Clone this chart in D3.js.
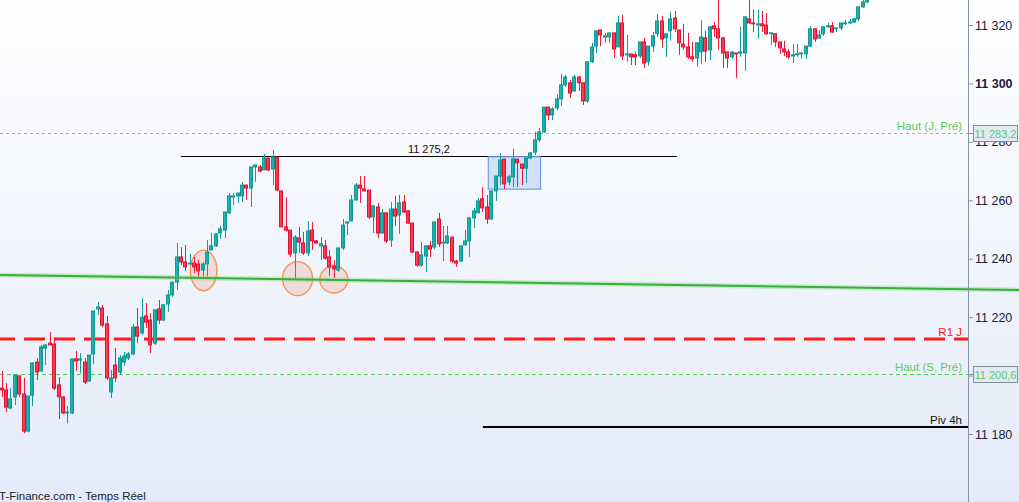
<!DOCTYPE html>
<html><head><meta charset="utf-8">
<script src="https://cdn.jsdelivr.net/npm/d3@7"></script>
<style>html,body{margin:0;padding:0;overflow:hidden;background:#fff}svg{display:block}</style>
</head><body><svg id="c" width="1019" height="502"></svg>
<script>
// ---------- DATA ----------
const opens=[11195.7,11195.1,11188.9,11192.7,11199.9,11193.7,11181.0,11193.3,11204.6,11201.6,11209.4,11211.1,11210.8,11196.8,11192.7,11187.2,11187.2,11205.7,11205.3,11204.6,11198.1,11207.4,11222.8,11223.1,11217.7,11194.4,11203.6,11201.2,11204.6,11206.0,11207.4,11216.6,11214.6,11220.4,11219.0,11211.1,11222.8,11219.0,11224.5,11227.6,11232.0,11240.6,11238.9,11238.2,11238.5,11238.2,11236.1,11238.2,11243.0,11244.4,11248.8,11249.8,11255.7,11261.1,11261.5,11261.5,11265.2,11264.2,11271.4,11271.4,11270.4,11274.5,11270.7,11274.8,11263.2,11250.9,11249.8,11242.0,11247.1,11245.4,11242.0,11249.8,11246.1,11244.4,11244.4,11240.6,11237.5,11236.1,11243.7,11252.2,11252.9,11260.1,11265.2,11263.9,11263.5,11254.3,11257.7,11248.8,11255.7,11246.4,11257.0,11255.0,11259.4,11256.4,11252.2,11242.3,11237.8,11240.9,11244.4,11244.0,11253.6,11245.4,11245.4,11247.4,11239.2,11239.2,11244.7,11246.1,11254.0,11255.7,11260.5,11257.7,11253.6,11263.2,11268.3,11274.1,11266.3,11268.0,11274.1,11272.4,11271.0,11274.5,11276.5,11280.7,11283.4,11291.9,11289.2,11291.6,11294.7,11299.5,11300.2,11297.4,11302.2,11300.2,11294.0,11307.4,11312.8,11318.3,11315.9,11315.9,11317.3,11312.5,11320.7,11309.8,11310.1,11309.8,11309.4,11314.2,11307.4,11312.8,11317.0,11321.4,11315.6,11318.0,11322.4,11318.3,11313.5,11312.5,11309.1,11308.7,11310.8,11315.6,11311.5,11319.7,11318.7,11315.6,11310.8,11309.1,11310.4,11310.4,11310.4,11322.1,11320.7,11320.0,11320.4,11320.0,11317.0,11317.0,11314.2,11311.8,11310.8,11309.4,11309.8,11310.1,11310.1,11312.8,11318.7,11315.6,11317.0,11319.4,11319.7,11318.7,11319.0,11320.4,11320.7,11321.0,11322.1,11326.2,11327.9];
const highs=[11201.6,11197.4,11195.7,11200.2,11199.9,11199.2,11193.0,11204.6,11206.0,11210.5,11210.5,11214.9,11213.2,11199.5,11192.7,11189.6,11205.7,11208.4,11207.7,11206.0,11207.0,11222.1,11225.2,11224.2,11220.4,11201.9,11209.4,11207.0,11208.1,11208.1,11217.7,11223.1,11226.6,11224.8,11221.4,11222.5,11225.9,11224.5,11229.3,11232.0,11245.4,11244.0,11244.7,11241.6,11240.6,11239.6,11238.9,11246.4,11248.8,11248.8,11251.2,11256.0,11262.5,11262.5,11262.5,11266.3,11265.2,11271.4,11272.1,11272.1,11275.9,11274.5,11277.2,11274.8,11263.2,11261.1,11249.8,11248.1,11250.9,11249.2,11252.9,11252.6,11246.4,11247.4,11246.4,11243.0,11239.6,11243.7,11253.6,11252.6,11261.8,11265.9,11268.3,11268.3,11263.5,11258.1,11259.1,11257.0,11255.7,11259.4,11261.5,11261.8,11261.8,11256.4,11252.2,11242.3,11245.7,11244.4,11246.1,11252.6,11255.7,11251.2,11251.2,11247.4,11239.6,11244.4,11249.8,11254.0,11257.4,11260.8,11264.5,11261.8,11263.2,11268.3,11276.2,11274.1,11268.7,11277.6,11274.1,11272.4,11274.5,11276.5,11283.4,11284.8,11291.9,11291.9,11291.9,11296.4,11303.3,11302.9,11301.2,11302.9,11302.6,11300.2,11307.4,11313.9,11318.0,11318.3,11317.3,11317.3,11317.3,11323.1,11323.5,11316.6,11310.1,11310.8,11314.2,11315.6,11312.8,11317.6,11323.8,11323.1,11317.0,11324.5,11324.8,11318.3,11320.4,11317.3,11314.2,11313.9,11321.7,11318.0,11319.4,11321.0,11328.6,11315.6,11310.8,11310.8,11310.4,11319.4,11322.8,11328.6,11325.2,11325.2,11324.8,11324.1,11317.6,11317.0,11314.2,11314.6,11311.8,11313.5,11313.5,11310.8,11312.8,11319.7,11318.7,11318.3,11319.7,11320.7,11321.0,11319.0,11320.7,11321.7,11322.1,11322.4,11326.2,11328.6,11330.3];
const lows=[11192.7,11187.5,11188.5,11189.9,11192.7,11180.3,11180.6,11189.6,11198.5,11201.2,11203.6,11210.5,11195.1,11185.1,11186.8,11183.7,11186.8,11201.6,11200.9,11197.1,11198.1,11204.0,11220.7,11216.6,11198.5,11192.3,11197.8,11200.2,11203.3,11205.3,11207.0,11211.1,11213.9,11216.3,11207.7,11210.5,11217.7,11218.7,11221.8,11226.9,11229.3,11237.8,11235.8,11237.8,11235.1,11233.8,11233.8,11233.8,11243.0,11244.0,11246.8,11247.1,11255.3,11258.4,11259.1,11259.4,11260.1,11257.7,11266.3,11269.7,11270.4,11270.0,11265.2,11263.2,11250.9,11249.2,11240.6,11233.1,11242.0,11241.3,11240.9,11243.0,11245.1,11239.6,11239.6,11234.1,11233.4,11235.5,11243.0,11248.1,11252.9,11259.8,11259.1,11263.2,11253.6,11248.8,11247.1,11248.5,11245.4,11244.0,11251.2,11248.5,11255.7,11251.9,11242.0,11237.2,11237.2,11235.5,11240.6,11243.3,11244.0,11239.2,11245.1,11238.5,11237.2,11238.9,11244.7,11240.6,11250.5,11255.7,11256.0,11251.9,11253.3,11259.8,11265.2,11263.9,11265.2,11264.5,11264.5,11265.2,11265.9,11274.1,11275.5,11280.0,11283.1,11287.5,11287.5,11290.9,11292.3,11298.8,11295.0,11297.1,11297.4,11292.6,11293.3,11307.0,11310.4,11312.8,11313.9,11313.9,11308.7,11312.5,11308.0,11307.4,11306.3,11306.3,11308.7,11305.3,11306.0,11310.8,11315.9,11312.2,11309.1,11314.6,11317.6,11309.8,11311.5,11308.4,11307.4,11305.7,11306.7,11307.4,11308.0,11315.9,11311.5,11305.3,11305.3,11308.4,11301.9,11309.1,11304.3,11320.4,11317.6,11315.2,11317.6,11316.6,11313.2,11312.5,11310.1,11309.4,11308.4,11307.0,11309.1,11308.4,11308.4,11312.5,11314.2,11315.2,11316.3,11319.0,11317.3,11317.6,11318.3,11320.0,11320.4,11320.7,11321.4,11325.9,11327.5];
const closes=[11195.1,11189.2,11192.0,11200.2,11193.7,11181.0,11193.0,11204.3,11201.2,11209.8,11210.5,11210.5,11195.7,11192.7,11187.2,11187.5,11205.7,11205.0,11205.7,11197.8,11207.0,11222.1,11223.5,11217.3,11199.2,11199.2,11199.2,11206.0,11206.7,11207.4,11216.6,11213.5,11220.0,11218.3,11210.5,11222.5,11219.0,11224.2,11227.6,11232.0,11240.6,11238.9,11237.2,11238.5,11237.2,11235.8,11238.2,11242.3,11244.4,11248.5,11250.2,11256.0,11261.5,11261.5,11262.5,11265.2,11264.2,11271.4,11272.1,11270.0,11274.5,11270.4,11274.8,11263.5,11250.9,11249.8,11241.6,11247.4,11245.7,11242.0,11249.5,11246.1,11245.4,11245.1,11240.2,11237.2,11236.5,11243.7,11251.5,11252.6,11260.1,11265.2,11264.2,11263.2,11254.3,11258.1,11248.8,11255.7,11246.1,11257.0,11254.6,11259.1,11256.0,11252.2,11242.3,11237.8,11241.3,11244.4,11243.3,11252.6,11245.1,11245.7,11247.8,11239.2,11238.5,11244.4,11246.1,11254.0,11256.4,11259.8,11257.4,11253.6,11263.2,11268.3,11273.8,11265.6,11268.0,11274.1,11272.8,11271.0,11274.5,11276.2,11280.7,11283.4,11291.9,11289.2,11291.3,11294.7,11299.5,11302.2,11296.7,11302.2,11300.2,11294.0,11307.4,11312.5,11318.0,11316.6,11316.3,11317.3,11311.8,11320.7,11309.4,11310.1,11309.1,11309.1,11314.2,11307.0,11312.8,11316.3,11321.4,11315.2,11317.0,11322.1,11318.7,11313.9,11312.5,11309.1,11308.4,11313.9,11315.9,11311.1,11319.4,11318.7,11315.6,11310.4,11308.7,11310.8,11310.1,11310.8,11322.8,11320.7,11320.4,11320.4,11319.7,11317.0,11317.3,11314.2,11312.2,11310.8,11309.1,11309.8,11310.1,11310.4,11312.8,11318.7,11315.2,11316.6,11319.4,11319.7,11317.6,11319.0,11320.7,11320.7,11321.0,11322.1,11326.2,11327.9,11329.3];

const yTicks=[11180,11200,11220,11240,11260,11280,11300,11320];
const boldTick=11300;
const hiddenTickLabels=[11200]; // fully covered by the "11 200,6" value box in the reference

const levelNames=["Haut (J, Pré)","R1 J","Haut (S, Pré)","Piv 4h"];
const levelValues=[11283.2,11212.5,11200.6,11182.4];
const levelBoxed=[true,false,true,false];
const pivStartIdx=110.1;

const trendIdx=[-0.4,232.8];
const trendVals=[11234.4,11229.3];

const resIdx=[41.0,154.5];
const resValue=11275.2;

const boxIdx=[111.35,123.3];
const boxVals=[11274.9,11263.8];

const circIdx=[46.2,67.7,76.0];
const circVals=[11236.0,11233.2,11232.9];

const footer="T-Finance.com - Temps Réel";

// ---------- DRAW ----------
const W=1019,H=502,AX=968;
const N=opens.length;
const candles=opens.map((o,i)=>({i,o,h:highs[i],l:lows[i],c:closes[i]}));
const x=d3.scaleLinear().domain([0,N-1]).range([1.7,867]);
const y=d3.scaleLinear().domain([11180,11320]).range([434,25]);
const fmtNum=v=>hiddenTickLabels.includes(v)?"":d3.format(",")(v).replace(/,/g," ");
const fmtDec=v=>d3.format(",.1f")(v).replace(/,/g," ").replace(".",",");
const FONT="Liberation Sans, Arial, sans-serif";

const svg=d3.select("#c");
const defs=svg.append("defs");
const bg=defs.append("linearGradient").attr("id","bg").attr("x1",0).attr("y1",0).attr("x2",0).attr("y2",1);
bg.append("stop").attr("offset","0%").attr("stop-color","#ffffff");
bg.append("stop").attr("offset","100%").attr("stop-color","#e3eaf9");
const tg=defs.append("linearGradient").attr("id","teal").attr("x1",0).attr("y1",0).attr("x2",1).attr("y2",0);
tg.append("stop").attr("offset","0%").attr("stop-color","#34c6c0");
tg.append("stop").attr("offset","100%").attr("stop-color","#0b9494");
const rg=defs.append("linearGradient").attr("id","red").attr("x1",0).attr("y1",0).attr("x2",1).attr("y2",0);
rg.append("stop").attr("offset","0%").attr("stop-color","#ff5468");
rg.append("stop").attr("offset","100%").attr("stop-color","#f5203f");
defs.append("clipPath").attr("id","plot").append("rect").attr("x",0).attr("y",0).attr("width",AX).attr("height",H);

svg.append("rect").attr("width",W).attr("height",H).attr("fill","url(#bg)");

const plot=svg.append("g").attr("clip-path","url(#plot)");

// level lines
const lvY=levelValues.map(v=>Math.round(y(v))+0.5);
plot.append("line").attr("x1",0).attr("x2",AX).attr("y1",lvY[0]).attr("y2",lvY[0])
  .attr("stroke","#a9a9a9").attr("stroke-width",1).attr("stroke-dasharray","3,3");
plot.append("line").attr("x1",0).attr("x2",AX).attr("y1",Math.round(y(levelValues[1]))).attr("y2",Math.round(y(levelValues[1])))
  .attr("stroke","#ff1a1a").attr("stroke-width",3).attr("stroke-dasharray","21,9").attr("stroke-dashoffset",6);
plot.append("line").attr("x1",0).attr("x2",AX).attr("y1",lvY[2]).attr("y2",lvY[2])
  .attr("stroke","#4cd04c").attr("stroke-width",1).attr("stroke-dasharray","4,3");
plot.append("line").attr("x1",x(pivStartIdx)).attr("x2",AX).attr("y1",Math.round(y(levelValues[3]))).attr("y2",Math.round(y(levelValues[3])))
  .attr("stroke","#000").attr("stroke-width",2);

// resistance line
const ry=Math.round(y(resValue))+0.5;
plot.append("line").attr("x1",x(resIdx[0])).attr("x2",x(resIdx[1])).attr("y1",ry).attr("y2",ry).attr("stroke","#000").attr("stroke-width",1);
plot.append("text").attr("x",(x(resIdx[0])+x(resIdx[1]))/2).attr("y",ry-4).attr("text-anchor","middle")
  .attr("font-family",FONT).attr("font-size",11).attr("fill","#111").text(fmtDec(resValue));

// trend line (over the whole width)
const trendLine=d3.line().x((d,k)=>x(trendIdx[k])).y(d=>y(d));
svg.append("path").attr("d",trendLine(trendVals)).attr("stroke","#7fd47f").attr("stroke-opacity",0.35).attr("stroke-width",5).attr("fill","none");
svg.append("path").attr("d",trendLine(trendVals)).attr("stroke","#33b233").attr("stroke-width",2).attr("fill","none");

// blue box
plot.append("rect").attr("x",x(boxIdx[0])).attr("y",y(boxVals[0])).attr("width",x(boxIdx[1])-x(boxIdx[0])).attr("height",y(boxVals[1])-y(boxVals[0]))
  .attr("fill","rgba(120,165,250,0.28)").attr("stroke","#6e9ef2").attr("stroke-width",1.2);

// ellipses
const circR=[[13.3,20.3],[15,17],[14,13.5]];
plot.selectAll("ellipse.c").data(circIdx).join("ellipse").attr("class","c")
  .attr("cx",(d)=>x(d)).attr("cy",(d,k)=>y(circVals[k]))
  .attr("rx",(d,k)=>circR[k][0]).attr("ry",(d,k)=>circR[k][1])
  .attr("fill","rgba(240,140,100,0.22)").attr("stroke","#f79450").attr("stroke-width",1.4);

// candles
const cg=plot.append("g");
const up=d=>d.c>=d.o;
cg.selectAll("line.w").data(candles).join("line").attr("class","w")
  .attr("x1",d=>Math.round(x(d.i))+0.5).attr("x2",d=>Math.round(x(d.i))+0.5)
  .attr("y1",d=>y(d.h)).attr("y2",d=>y(d.l))
  .attr("stroke",d=>up(d)?"#119c9c":"#f5183c").attr("stroke-width",1);
cg.selectAll("rect.b").data(candles).join("rect").attr("class","b")
  .attr("x",d=>Math.round(x(d.i))-1.5).attr("width",3)
  .attr("y",d=>y(Math.max(d.o,d.c))).attr("height",d=>Math.max(0.6,Math.abs(y(d.o)-y(d.c))))
  .attr("fill",d=>up(d)?"url(#teal)":"url(#red)")
  .attr("stroke",d=>up(d)?"#0f9a98":"#e0102e").attr("stroke-width",1);

// level labels
const lblColors=["#5ccc5c","#ff1a1a","#5ccc5c","#111"];
levelNames.forEach((n,k)=>{
  svg.append("text").attr("x",962).attr("y",Math.round(y(levelValues[k]))-3).attr("text-anchor","end")
    .attr("font-family",FONT).attr("font-size",11.5).attr("fill",lblColors[k]).text(n);
});

// axis
svg.append("line").attr("x1",AX+0.5).attr("x2",AX+0.5).attr("y1",0).attr("y2",H).attr("stroke","#8494a6").attr("stroke-width",1);
const axis=d3.axisRight(y).tickValues(yTicks).tickSize(5).tickPadding(2).tickFormat(fmtNum);
const ag=svg.append("g").attr("transform",`translate(${AX},0)`).call(axis);
ag.select(".domain").remove();
ag.selectAll(".tick line").attr("stroke","#8494a6");
ag.selectAll(".tick text").attr("font-family",FONT).attr("font-size",12.5)
  .attr("fill","#1a1a3a").attr("font-weight",d=>d===boldTick?"bold":"normal");

// value boxes on axis
levelValues.forEach((v,k)=>{
  if(!levelBoxed[k])return;
  const yy=Math.round(y(v))+0.5;
  svg.append("line").attr("x1",AX).attr("x2",AX+6).attr("y1",yy).attr("y2",yy).attr("stroke","#8494a6");
  svg.append("rect").attr("x",973.5).attr("y",yy-8).attr("width",44).attr("height",16)
    .attr("fill","#e2eaf6").attr("stroke","#7f8f9f").attr("stroke-width",1);
  svg.append("text").attr("x",995.5).attr("y",yy+4.5).attr("text-anchor","middle").attr("font-family",FONT)
    .attr("font-size",11).attr("fill","#5ccc5c").text(fmtDec(v));
});

// footer
svg.append("text").attr("x",-1).attr("y",500).attr("font-family",FONT)
  .attr("font-size",11.5).attr("fill","#222").text(footer);
</script></body></html>
